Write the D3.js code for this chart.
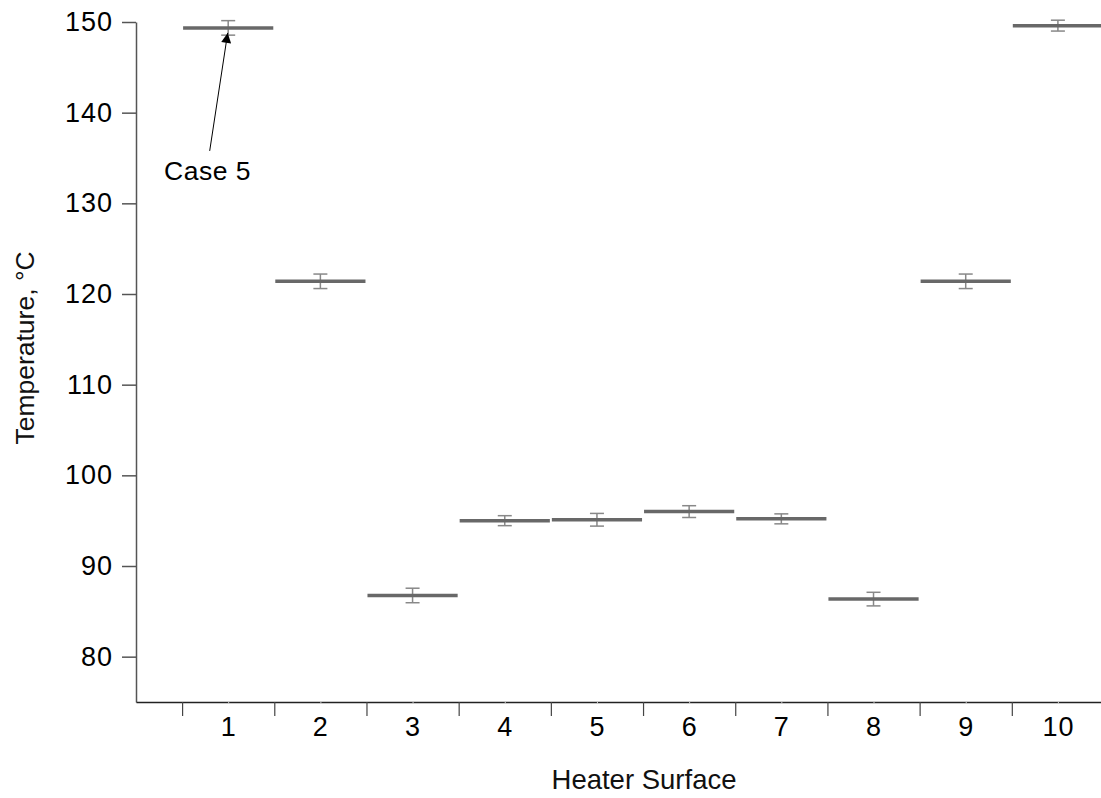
<!DOCTYPE html>
<html><head><meta charset="utf-8">
<script src="https://cdn.jsdelivr.net/npm/d3@7"></script>
<style>
html,body{margin:0;padding:0;background:#fff;}
svg{display:block;font-family:"Liberation Sans",Arial,sans-serif;}
</style></head>
<body>
<svg id="chart" width="1101" height="798"></svg>
<script>
const surfaces = [1,2,3,4,5,6,7,8,9,10];
const temps = [149.35, 121.4, 86.75, 95.0, 95.1, 96.0, 95.2, 86.35, 121.4, 149.6];
const errors = [0.8, 0.8, 0.8, 0.55, 0.7, 0.65, 0.55, 0.75, 0.8, 0.6];
const yTicks = [80, 90, 100, 110, 120, 130, 140, 150];
const xLabel = "Heater Surface";
const yLabel = "Temperature, °C";
const annotation = {text: "Case 5", surface: 1};

const svg = d3.select("#chart");
const x = d3.scaleLinear().domain([0, 10.5]).range([136, 1104]);
const y = d3.scaleLinear().domain([75, 150]).range([702, 22]);

// Y axis
const yAx = svg.append("g").attr("transform", "translate(136,0)")
  .call(d3.axisLeft(y).tickValues(yTicks).tickSize(14).tickPadding(9).tickSizeOuter(0));
yAx.select(".domain").attr("stroke", "#555").attr("stroke-width", 1.5);
yAx.selectAll(".tick line").attr("stroke", "#555").attr("stroke-width", 1.5);
yAx.selectAll(".tick text").attr("font-size", 27).attr("fill", "#000")
  .attr("font-family", "Liberation Sans, Arial, sans-serif").attr("letter-spacing", 1);

// X axis boundaries
const xAx = svg.append("g").attr("transform", "translate(0,702)")
  .call(d3.axisBottom(x).tickValues(surfaces.map(d => d - 0.5)).tickSize(14).tickFormat("").tickSizeOuter(0));
xAx.select(".domain").attr("stroke", "#222").attr("stroke-width", 1.5);
xAx.selectAll(".tick line").attr("stroke", "#444").attr("stroke-width", 1.2);

const xAx2 = svg.append("g").attr("transform", "translate(0,702)")
  .call(d3.axisBottom(x).tickValues(surfaces).tickSize(2).tickPadding(13).tickFormat(d3.format("d")));
xAx2.select(".domain").remove();
xAx2.selectAll(".tick line").attr("stroke", "#ccc");
xAx2.selectAll(".tick text").attr("font-size", 27).attr("fill", "#000")
  .attr("font-family", "Liberation Sans, Arial, sans-serif").attr("letter-spacing", 1);

// Titles
svg.append("text").attr("x", 644).attr("y", 789).attr("text-anchor", "middle")
  .attr("font-size", 27.5).attr("fill", "#111").text(xLabel);
svg.append("text").attr("transform", "translate(34,348) rotate(-90)").attr("text-anchor", "middle")
  .attr("font-size", 26.5).attr("fill", "#111").text(yLabel);

const data = surfaces.map((s, i) => ({s, v: temps[i], e: errors[i]}));

// Error bars
const eb = svg.append("g").attr("stroke", "#888").attr("stroke-width", 1.5);
data.forEach(d => {
  const cx = x(d.s);
  eb.append("line").attr("x1", cx).attr("x2", cx).attr("y1", y(d.v - d.e)).attr("y2", y(d.v + d.e));
  eb.append("line").attr("x1", cx - 7).attr("x2", cx + 7).attr("y1", y(d.v - d.e)).attr("y2", y(d.v - d.e));
  eb.append("line").attr("x1", cx - 7).attr("x2", cx + 7).attr("y1", y(d.v + d.e)).attr("y2", y(d.v + d.e));
});

// Mean lines
svg.append("g").selectAll("line").data(data).join("line")
  .attr("x1", d => x(d.s - 0.5) + 1).attr("x2", d => x(d.s + 0.5) - 1)
  .attr("y1", d => y(d.v)).attr("y2", d => y(d.v))
  .attr("stroke", "#686868").attr("stroke-width", 3.5);

// Annotation
const ax = x(annotation.surface) - 0.5;
const tipY = y(temps[0]) + 5;
const tailX = ax - 18, tailY = tipY + 118;
svg.append("defs").append("marker").attr("id", "arr").attr("viewBox", "0 0 10 10")
  .attr("refX", 10).attr("refY", 5).attr("markerWidth", 18).attr("markerHeight", 10)
  .attr("markerUnits", "userSpaceOnUse").attr("orient", "auto")
  .append("path").attr("d", "M0,0 L10,5 L0,10 Z").attr("fill", "#000");
svg.append("line").attr("x1", tailX).attr("y1", tailY).attr("x2", ax).attr("y2", tipY)
  .attr("stroke", "#000").attr("stroke-width", 1).attr("marker-end", "url(#arr)");
svg.append("text").attr("x", 164).attr("y", 180).attr("font-size", 26.5).attr("fill", "#000")
  .attr("letter-spacing", 0.5).text(annotation.text);
</script>
</body></html>
